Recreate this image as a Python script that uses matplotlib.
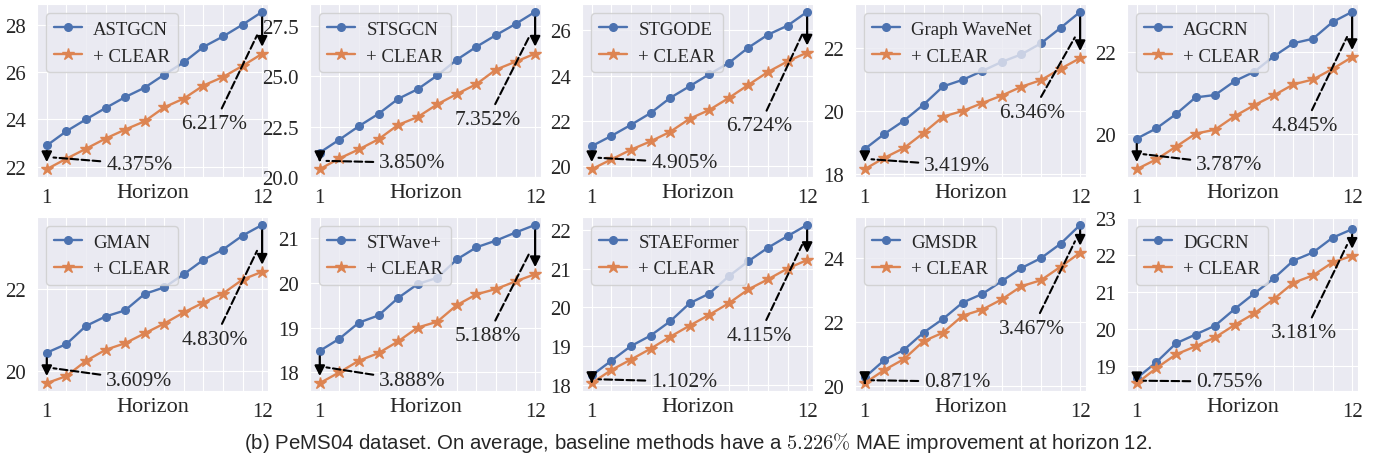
import matplotlib
matplotlib.use("Agg")
import matplotlib.pyplot as plt
import seaborn as sns

# ---------------- data ----------------
horizons = list(range(1, 13))
methods = ["ASTGCN", "STSGCN", "STGODE", "Graph WaveNet", "AGCRN",
           "GMAN", "STWave+", "STAEFormer", "GMSDR", "DGCRN"]

astgcn = [22.90, 23.50, 24.00, 24.48, 24.94, 25.34, 25.89, 26.41, 27.06, 27.50, 28.00, 28.54]
astgcn_clear = [21.90, 22.34, 22.76, 23.19, 23.57, 23.92, 24.51, 24.88, 25.43, 25.79, 26.26, 26.77]

stsgcn = [21.21, 21.85, 22.52, 23.13, 23.87, 24.35, 25.03, 25.81, 26.45, 27.03, 27.58, 28.18]
stsgcn_clear = [20.39, 20.92, 21.37, 21.87, 22.58, 22.97, 23.60, 24.11, 24.60, 25.32, 25.71, 26.11]

stgode = [20.88, 21.33, 21.82, 22.34, 23.01, 23.53, 24.06, 24.56, 25.24, 25.81, 26.21, 26.82]
stgode_clear = [19.86, 20.29, 20.72, 21.09, 21.51, 22.09, 22.48, 23.01, 23.59, 24.16, 24.63, 25.02]

gwnet = [18.80, 19.28, 19.70, 20.21, 20.79, 21.00, 21.28, 21.57, 21.81, 22.16, 22.65, 23.16]
gwnet_clear = [18.16, 18.52, 18.83, 19.31, 19.83, 20.01, 20.26, 20.50, 20.78, 20.99, 21.35, 21.69]

agcrn = [19.88, 20.13, 20.48, 20.89, 20.95, 21.29, 21.52, 21.90, 22.22, 22.33, 22.74, 22.99]
agcrn_clear = [19.13, 19.37, 19.68, 20.00, 20.10, 20.43, 20.70, 20.94, 21.21, 21.33, 21.59, 21.88]

gman = [20.44, 20.65, 21.09, 21.32, 21.47, 21.87, 22.03, 22.35, 22.70, 22.95, 23.29, 23.55]
gman_clear = [19.70, 19.87, 20.24, 20.51, 20.67, 20.91, 21.15, 21.42, 21.66, 21.88, 22.22, 22.41]

stwave = [18.48, 18.75, 19.11, 19.27, 19.66, 19.97, 20.11, 20.52, 20.79, 20.94, 21.12, 21.29]
stwave_clear = [17.76, 18.00, 18.26, 18.43, 18.69, 19.00, 19.13, 19.50, 19.74, 19.86, 20.03, 20.19]

staeformer = [18.24, 18.62, 19.00, 19.27, 19.64, 20.11, 20.36, 20.81, 21.20, 21.55, 21.85, 22.14]
staeformer_clear = [18.04, 18.38, 18.65, 18.93, 19.24, 19.53, 19.81, 20.11, 20.47, 20.73, 21.01, 21.23]

gmsdr = [20.26, 20.80, 21.12, 21.66, 22.09, 22.60, 22.87, 23.27, 23.68, 23.99, 24.44, 25.03]
gmsdr_clear = [20.08, 20.49, 20.83, 21.39, 21.66, 22.19, 22.38, 22.70, 23.11, 23.30, 23.72, 24.16]

dgcrn = [18.66, 19.09, 19.60, 19.84, 20.08, 20.53, 20.95, 21.36, 21.84, 22.06, 22.46, 22.69]
dgcrn_clear = [18.52, 18.93, 19.30, 19.52, 19.76, 20.10, 20.41, 20.80, 21.24, 21.44, 21.79, 21.97]

baselines = [astgcn, stsgcn, stgode, gwnet, agcrn, gman, stwave, staeformer, gmsdr, dgcrn]
clears = [astgcn_clear, stsgcn_clear, stgode_clear, gwnet_clear, agcrn_clear,
          gman_clear, stwave_clear, staeformer_clear, gmsdr_clear, dgcrn_clear]

imp_h1 = [4.375, 3.850, 4.905, 3.419, 3.787, 3.609, 3.888, 1.102, 0.871, 0.755]
imp_h12 = [6.217, 7.352, 6.724, 6.346, 4.845, 4.830, 5.188, 4.115, 3.467, 3.181]

yticks = [[22, 24, 26, 28], [20.0, 22.5, 25.0, 27.5], [20, 22, 24, 26], [18, 20, 22], [20, 22],
          [20, 22], [18, 19, 20, 21], [18, 19, 20, 21, 22], [20, 22, 24], [19, 20, 21, 22, 23]]
xticklabels = ["1"] + [""] * 10 + ["12"]
clear_label = "+ CLEAR"
xlabel = "Horizon"
caption_pre = "(b) PeMS04 dataset. On average, baseline methods have a "
caption_math = r"$5.226\%$"
caption_post = " MAE improvement at horizon 12."

# ---------------- layout (axes-fraction text positions) ----------------
h1_text_y = [0.073, 0.082, 0.082, 0.067, 0.073, 0.063, 0.058, 0.054, 0.054, 0.054]
h12_text_y = [0.308, 0.333, 0.295, 0.375, 0.298, 0.298, 0.317, 0.32, 0.36, 0.335]

# ---------------- style ----------------
sns.set_style("darkgrid")
plt.rcParams["font.family"] = ["Liberation Serif", "DejaVu Serif"]
plt.rcParams["mathtext.fontset"] = "cm"

BLUE = "#4C72B0"
ORANGE = "#DD8452"

fig = plt.figure(figsize=(13.74, 4.6), dpi=100)
W, H = 1374.0, 460.0
lefts = [37, 310, 582, 855, 1127]
ax_w = 231
rows = [(5, 178), (218, 392)]

axes = []
for r, (top, bot) in enumerate(rows):
    for c, lx in enumerate(lefts):
        ax = fig.add_axes([lx / W, 1 - bot / H, ax_w / W, (bot - top) / H])
        axes.append(ax)

for i, ax in enumerate(axes):
    b = baselines[i]
    c = clears[i]
    ax.plot(horizons, b, marker="o", color=BLUE, lw=1.7, ms=5.5, label=methods[i], zorder=3)
    ax.plot(horizons, c, marker="*", color=ORANGE, lw=1.7, ms=9, label=clear_label, zorder=3)
    ax.set_xticks(horizons)
    ax.set_xticklabels(xticklabels)
    ax.set_yticks(yticks[i])
    ax.tick_params(axis="both", labelsize=15, pad=4.5)
    ax.set_xlim(0.5, 12.3)
    ax.legend(loc="upper left", fontsize=13.5, handlelength=1.5, handletextpad=0.6,
              borderaxespad=0.5)
    ax.annotate(xlabel, xy=(0.5, 0), xycoords="axes fraction", xytext=(0, -4.5),
                textcoords="offset points", ha="center", va="top", fontsize=16)

    # horizon 1 arrow
    ax.annotate("", xy=(1, c[0]), xytext=(1, b[0]),
                arrowprops=dict(arrowstyle="-|>", color="black", lw=1.6,
                                shrinkA=4, shrinkB=5, mutation_scale=15), zorder=4)
    ax.annotate(f"{imp_h1[i]:.3f}%", xy=(1.2, (b[0] + c[0]) / 2),
                xytext=(0.30, h1_text_y[i]), textcoords="axes fraction",
                ha="left", va="center", fontsize=15.5,
                arrowprops=dict(arrowstyle="-", ls="--", color="black", lw=1.5,
                                shrinkA=2, shrinkB=2))
    # horizon 12 arrow
    ax.annotate("", xy=(12, c[-1]), xytext=(12, b[-1]),
                arrowprops=dict(arrowstyle="-|>", color="black", lw=1.6,
                                shrinkA=4, shrinkB=5, mutation_scale=15), zorder=4)
    ax.annotate(f"{imp_h12[i]:.3f}%", xy=(11.8, (b[-1] + c[-1]) / 2),
                xytext=(0.625, h12_text_y[i]), textcoords="axes fraction",
                ha="left", va="center", fontsize=15.5,
                arrowprops=dict(arrowstyle="-", ls="--", color="black", lw=1.5,
                                shrinkA=2, shrinkB=2))

axes[9].set_ylim(top=23.02)

fig.text(698 / W, 1 - 443 / H, caption_pre + caption_math + caption_post,
         ha="center", va="center", fontsize=14.7,
         family=["Liberation Sans", "DejaVu Sans"])

fig.savefig("out.png", dpi=100)
